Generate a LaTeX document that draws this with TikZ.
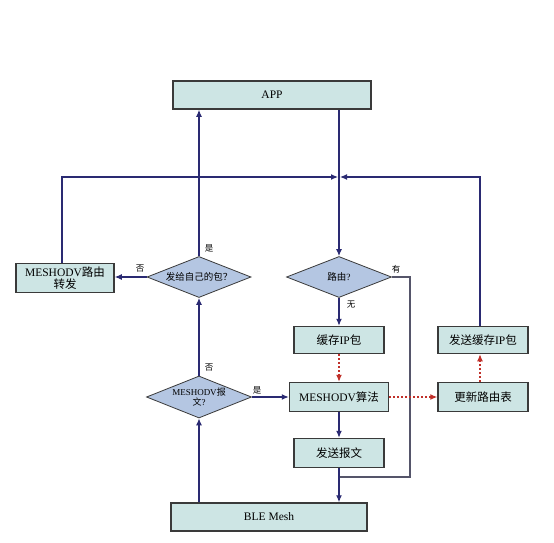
\documentclass[tikz,border=0pt]{standalone}
\usepackage{fontspec}
\setmainfont{Liberation Serif}
\newfontfamily\cjk{Noto Sans CJK SC}
\usetikzlibrary{arrows.meta,shapes.geometric}
\definecolor{boxfill}{HTML}{CDE5E4}
\definecolor{dmfill}{HTML}{B4C6E2}
\definecolor{edge}{HTML}{3A3A3A}
\definecolor{navy}{HTML}{2A2A72}
\definecolor{grayline}{HTML}{55556A}
\definecolor{dotred}{HTML}{C0302A}
\begin{document}
\begin{tikzpicture}[x=1pt,y=-1pt,
  box/.style={draw=edge, fill=boxfill, line width=1.5pt, inner sep=0pt, align=center, font=\fontsize{11.5}{13}\selectfont},
  dm/.style={draw=edge, fill=dmfill, line width=0.8pt, diamond, inner sep=0pt},
  dtext/.style={font=\fontsize{9.5}{11}\selectfont, align=center},
  lbl/.style={font=\fontsize{8.5}{10}\selectfont\cjk, inner sep=0pt},
  arr/.style={draw=navy, line width=1.2pt, -{Latex[length=7pt,width=6pt]}},
  gl/.style={draw=grayline, line width=1.2pt},
  rd/.style={draw=dotred, line width=1.1pt, dash pattern=on 2pt off 2pt, -{Latex[length=7pt,width=6pt]}}
]
\useasboundingbox[fill=white] (0,0) rectangle (554,543);

% boxes
\node[box, minimum width=198pt, minimum height=28pt] (app) at (272,95) {APP};
\node[box, minimum width=98pt, minimum height=29pt] (fwd) at (65,278) {MESHODV{\cjk 路由}\\[-1pt]{\cjk 转发}};
\node[box, minimum width=90pt, minimum height=27pt] (cache) at (339,340) {{\cjk 缓存}IP{\cjk 包}};
\node[box, minimum width=90pt, minimum height=27pt] (sendcache) at (483,340) {{\cjk 发送缓存}IP{\cjk 包}};
\node[box, minimum width=99pt, minimum height=29pt] (algo) at (339,397) {MESHODV{\cjk 算法}};
\node[box, minimum width=90pt, minimum height=29pt] (update) at (483,397) {\cjk 更新路由表};
\node[box, minimum width=90pt, minimum height=29pt] (send) at (339,453) {\cjk 发送报文};
\node[box, minimum width=196pt, minimum height=28pt] (ble) at (269,517) {BLE Mesh};

% diamonds
\node[dm, minimum width=104pt, minimum height=41pt,
  label={[dtext, name=ownt]center:{\cjk 发给自己的包？}}] (own) at (199,277) {};
\node[dm, minimum width=105pt, minimum height=41pt,
  label={[dtext, name=routet]center:{\cjk 路由}?}] (route) at (339,277) {};
\node[dm, minimum width=105pt, minimum height=42pt,
  label={[dtext, name=msgt, font=\fontsize{9}{10.5}\selectfont]center:{MESHODV{\cjk 报}\\{\cjk 文}?}}] (msg) at (199,397) {};

% labels
\node[lbl] (l1) at (209,248) {是};
\node[lbl] (l2) at (140,269) {否};
\node[lbl] (l3) at (209,368) {否};
\node[lbl] (l4) at (257,390) {是};
\node[lbl] (l5) at (396,269) {有};
\node[lbl] (l6) at (351,305) {无};

% junction coordinates
\coordinate (j) at (339,177);
\coordinate (k) at (410,477);
\coordinate (m) at (339,477);

% connectors
\draw[arr] (app.south -| route.north) -- (route.north);
\draw[arr] ([xshift=-3pt]fwd.north) |- ([xshift=-1pt]j);
\draw[arr] ([xshift=-3pt]sendcache.north) |- ([xshift=1pt]j);
\draw[arr] (own.north) -- (own.north |- app.south);
\draw[arr] (own.west) -- (own.west -| fwd.east);
\draw[arr] (msg.north) -- (own.south);
\draw[arr] (msg.east) -- (algo.west);
\draw[arr] (msg.south |- ble.north) -- (msg.south);
\draw[arr] (route.south) -- (cache.north);
\draw[gl] (route.east) -| (k) -- (m);
\draw[arr] (send.south) -- (send.south |- ble.north);
\draw[arr] (algo.south) -- (send.north);
\draw[rd] (cache.south) -- (algo.north);
\draw[rd] (algo.east) -- (update.west);
\draw[rd] ([xshift=-3pt]update.north) -- ([xshift=-3pt]sendcache.south);
\end{tikzpicture}
\end{document}
